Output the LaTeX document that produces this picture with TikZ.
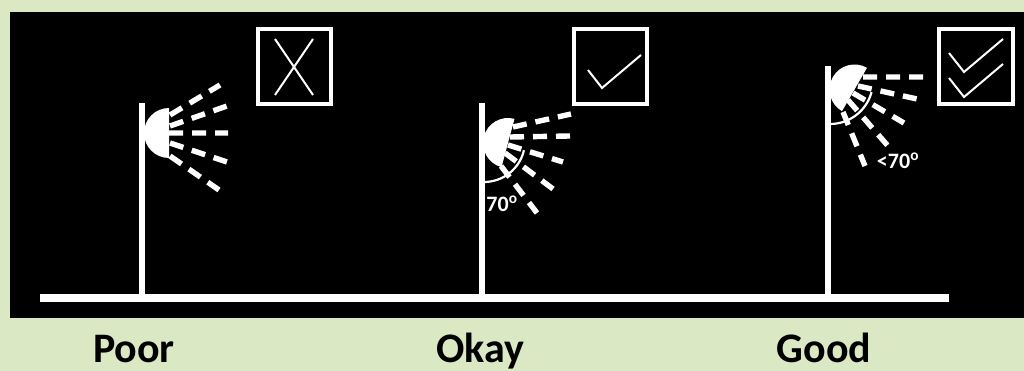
\documentclass[tikz,border=0pt]{standalone}
\usepackage{fontspec}
\setmainfont{Carlito}
\definecolor{sage}{HTML}{DAE8C4}

\begin{document}
\begin{tikzpicture}[
  x=1pt, y=-1pt,
  pole/.style={white, line width=5.4pt},
  ray/.style={white, line width=5.4pt, dash pattern=on 14pt off 9pt},
  dome/.style={fill=white, draw=none},
  panel/.style={draw=white, line width=4pt},
  tick/.style={white, line width=2pt},
  sweep/.style={white, line width=2.2pt},
  rating/.style={font=\fontsize{42}{42}\selectfont\bfseries, anchor=base, inner sep=0pt},
  angletext/.style={white, font=\fontsize{22}{22}\selectfont\bfseries, inner sep=0pt},
]
\useasboundingbox (0,0) rectangle (1024,371);
\fill[sage] (0,0) rectangle (1024,371);
\fill[black] (10,12) rectangle (1024,318);
% ground
\fill[white] (40,294) rectangle (949,302);
% Poor lamp
\draw[pole] (142,103) -- (142,295);
\fill[dome] (169,108) arc[start angle=270, end angle=90, radius=25] -- cycle;
\draw[ray] (170,115) -- (220,85) (170,126) -- (227,106) (169,133) -- (228,133)
  (170,143) -- (227,162) (170,156) -- (219,190);
\draw[panel] (257.7,29) rectangle (331,103.7);
\draw[tick] (275,39) -- (313,95) (313,39) -- (275,95);
% Okay lamp
\draw[pole] (482,103) -- (482,295);
\begin{scope}[shift={(508,143)}, rotate=-15]
\fill[dome] (0,-25) arc[start angle=270, end angle=90, radius=25] -- cycle;
\end{scope}
\draw[ray] (513,127) -- (571,114) (510,137) -- (570,136) (508,145) -- (563,162)
  (505,153) -- (553,189) (501,166) -- (537,213);
\draw[sweep] (484,182) arc[start angle=90, end angle=13, radius=41];
\draw[panel] (573.7,29) rectangle (647,103.7);
\draw[tick] (588,70) -- (602,88) -- (641,55);
\node[angletext] (okayangle) at (502,204) {70\textsuperscript{o}};
% Good lamp
\draw[pole] (828,66) -- (828,295);
\begin{scope}[shift={(854.5,89.5)}, rotate=-30]
\fill[dome] (0,-25) arc[start angle=270, end angle=90, radius=25] -- cycle;
\end{scope}
\draw[ray] (863,77) -- (923,77) (858,86) -- (917,99) (853,93) -- (904,123)
  (848,100) -- (888,146) (843,112) -- (865,166);
\draw[sweep] (830,124) arc[start angle=90, end angle=15, radius=43];
\draw[panel] (939,29) rectangle (1013,103.7);
\draw[tick] (949,53) -- (964,72) -- (1003,39) (949,78) -- (964,97) -- (1003,64);
\node[angletext] (goodangle) at (898,161) {<70\textsuperscript{o}};
% ratings
\node[rating] (poor) at (134,362) {Poor};
\node[rating] (okay) at (480,362) {Okay};
\node[rating] (good) at (824,362) {Good};
\end{tikzpicture}
\end{document}
